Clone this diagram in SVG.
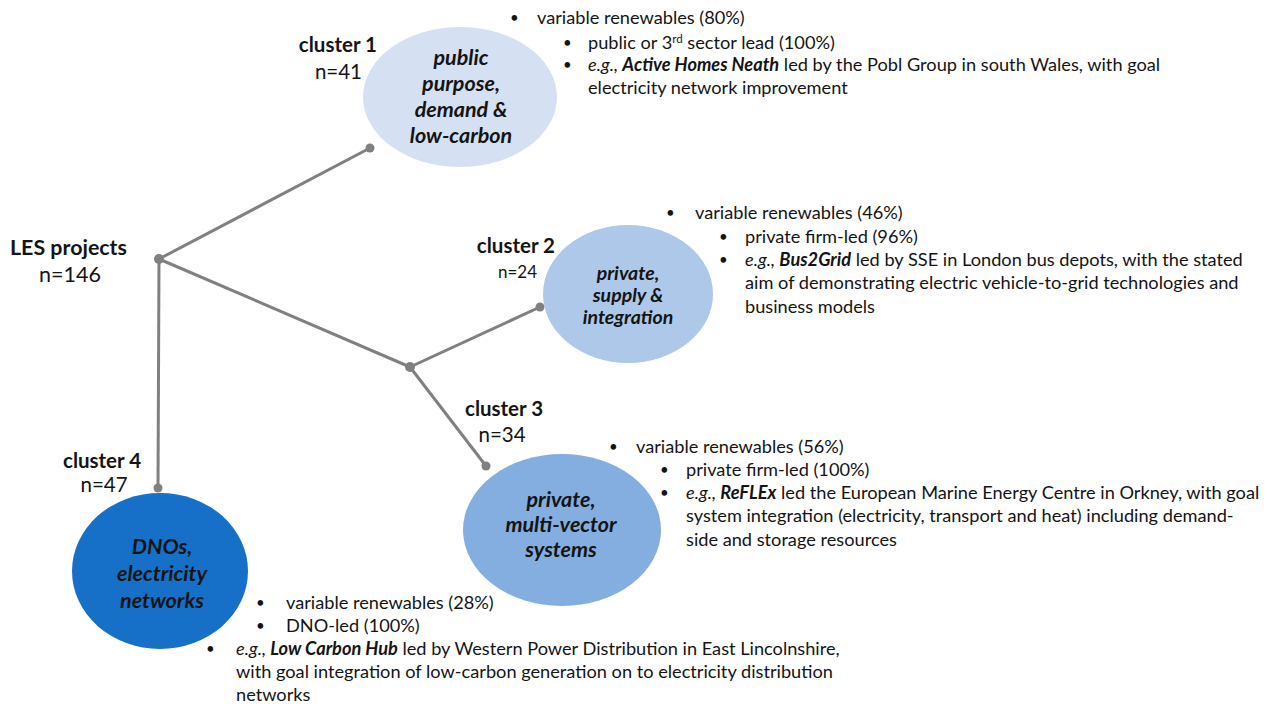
<svg xmlns="http://www.w3.org/2000/svg" width="1268" height="704" viewBox="0 0 1268 704">
<style>
text{font-family:Lato,"Liberation Sans",sans-serif;fill:#141414}
.lbl{font-size:20.5px}
.b{font-weight:bold}
.el{font-weight:bold;font-style:italic;text-anchor:middle}
.t{font-size:18.2px}
.bu{font-size:15px}
.i{font-style:italic}
.bi{font-style:italic;font-weight:bold}
.ln{stroke:#808080;stroke-width:3;fill:none}
.dot{fill:#808080}
</style>
<rect width="1268" height="704" fill="#fff"/>
<g id="connectors">
<line class="ln" x1="159" y1="259" x2="370" y2="148"/>
<line class="ln" x1="159" y1="259" x2="410" y2="367"/>
<line class="ln" x1="410" y1="367" x2="540" y2="307"/>
<line class="ln" x1="410" y1="367" x2="486" y2="466"/>
<line class="ln" x1="159" y1="259" x2="158" y2="488"/>
<circle class="dot" cx="159" cy="259" r="5"/>
<circle class="dot" cx="410" cy="367" r="5"/>
<circle class="dot" cx="370" cy="148" r="4.5"/>
<circle class="dot" cx="540" cy="307" r="4.5"/>
<circle class="dot" cx="486" cy="466" r="4.5"/>
<circle class="dot" cx="158" cy="488" r="4.5"/>
</g>
<g id="root">
<text x="10" y="255" class="b" font-size="21.4">LES projects</text>
<text x="70" y="282" text-anchor="middle" font-size="21.5">n=146</text>
</g>
<g id="cluster1">
<ellipse cx="460" cy="97" rx="97" ry="70" fill="#d5e1f3"/>
<text class="el" font-size="21.5" x="461" y="65">public</text>
<text class="el" font-size="21.5" x="461" y="91">purpose,</text>
<text class="el" font-size="21.5" x="461" y="117">demand &amp;</text>
<text class="el" font-size="21.5" x="461" y="143">low-carbon</text>
<text x="377" y="52" text-anchor="end" class="lbl b">cluster 1</text>
<text x="362" y="79" text-anchor="end" class="lbl">n=41</text>
<text class="t bu" x="510" y="23">•</text><text class="t" x="537" y="24">variable renewables (80%)</text>
<text class="t bu" x="563" y="48">•</text><text class="t" x="588" y="49">public or 3<tspan font-size="11.5" dy="-6.5">rd</tspan><tspan dy="6.5"> sector lead (100%)</tspan></text>
<text class="t bu" x="563" y="70">•</text><text class="t" x="588" y="71"><tspan class="i">e.g., </tspan><tspan class="bi">Active Homes Neath</tspan> led by the Pobl Group in south Wales, with goal</text>
<text class="t" x="588" y="94">electricity network improvement</text>
</g>
<g id="cluster2">
<ellipse cx="628" cy="294" rx="85" ry="69" fill="#aec8ea"/>
<text class="el" font-size="19.5" x="628" y="280">private,</text>
<text class="el" font-size="19.5" x="628" y="302">supply &amp;</text>
<text class="el" font-size="19.5" x="628" y="324">integration</text>
<text x="555" y="253" text-anchor="end" class="lbl b">cluster 2</text>
<text x="537" y="278" text-anchor="end" font-size="17">n=24</text>
<text class="t bu" x="666" y="218">•</text><text class="t" x="695" y="219">variable renewables (46%)</text>
<text class="t bu" x="719" y="242">•</text><text class="t" x="745" y="243">private firm-led (96%)</text>
<text class="t bu" x="719" y="265">•</text><text class="t" x="745" y="266"><tspan class="i">e.g., </tspan><tspan class="bi">Bus2Grid</tspan> led by SSE in London bus depots, with the stated</text>
<text class="t" x="745" y="289">aim of demonstrating electric vehicle-to-grid technologies and</text>
<text class="t" x="745" y="313">business models</text>
</g>
<g id="cluster3">
<ellipse cx="562" cy="530" rx="99" ry="76" fill="#84aee0"/>
<text class="el" font-size="21.5" x="561" y="507">private,</text>
<text class="el" font-size="21.5" x="561" y="532">multi-vector</text>
<text class="el" font-size="21.5" x="561" y="557">systems</text>
<text x="465" y="416" class="lbl b">cluster 3</text>
<text x="502" y="442" text-anchor="middle" class="lbl">n=34</text>
<text class="t bu" x="609" y="452">•</text><text class="t" x="636" y="453">variable renewables (56%)</text>
<text class="t bu" x="660" y="475">•</text><text class="t" x="686" y="476">private firm-led (100%)</text>
<text class="t bu" x="660" y="498">•</text><text class="t" x="686" y="499"><tspan class="i">e.g., </tspan><tspan class="bi">ReFLEx</tspan> led the European Marine Energy Centre in Orkney, with goal</text>
<text class="t" x="686" y="522">system integration (electricity, transport and heat) including demand-</text>
<text class="t" x="686" y="546">side and storage resources</text>
</g>
<g id="cluster4">
<ellipse cx="160" cy="571" rx="88" ry="78" fill="#1670c8"/>
<text class="el" font-size="21.5" x="162" y="554">DNOs,</text>
<text class="el" font-size="21.5" x="162" y="581">electricity</text>
<text class="el" font-size="21.5" x="162" y="608">networks</text>
<text x="63" y="468" class="lbl b">cluster 4</text>
<text x="104" y="492" text-anchor="middle" class="lbl">n=47</text>
<text class="t bu" x="256" y="608">•</text><text class="t" x="286" y="609">variable renewables (28%)</text>
<text class="t bu" x="256" y="631">•</text><text class="t" x="286" y="632">DNO-led (100%)</text>
<text class="t bu" x="206" y="654">•</text><text class="t" x="236" y="655"><tspan class="i">e.g., </tspan><tspan class="bi">Low Carbon Hub</tspan> led by Western Power Distribution in East Lincolnshire,</text>
<text class="t" x="236" y="678">with goal integration of low-carbon generation on to electricity distribution</text>
<text class="t" x="236" y="701">networks</text>
</g>
</svg>
